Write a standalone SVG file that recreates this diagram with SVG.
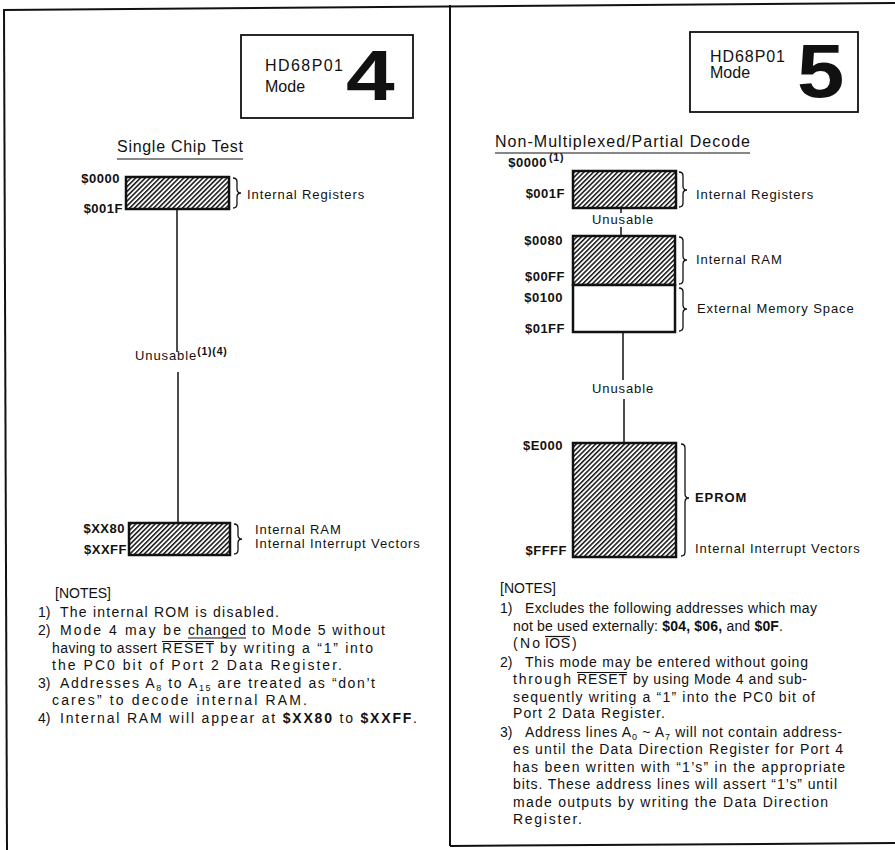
<svg xmlns="http://www.w3.org/2000/svg" width="895" height="850" viewBox="0 0 895 850">
<defs>
<pattern id="hatch" width="3.4" height="3.4" patternUnits="userSpaceOnUse" patternTransform="rotate(45)">
<rect width="3.4" height="3.4" fill="#fff"/>
<rect width="1.5" height="3.4" fill="#111"/>
</pattern>
</defs>
<style>
text{font-family:"Liberation Sans",Arial,Helvetica,sans-serif;fill:#111}
.lbl{font-size:13px;letter-spacing:0.9px}
.addr{font-size:13px;font-weight:bold;text-anchor:end;letter-spacing:0.5px}
.note{font-size:14px}
.ttl{font-size:16px}
.hd{font-size:16px}
.big{font-weight:bold}
.sub{font-size:9px}
.sup{font-size:10.5px;font-weight:bold;letter-spacing:0.8px}
.blk{stroke:#111;stroke-width:2.5;fill:url(#hatch)}
.emp{stroke:#111;stroke-width:2.5;fill:#fff}
.brace{fill:none;stroke:#111;stroke-width:1.3}
.conn{stroke:#111;stroke-width:1.5;fill:none}
.frame{stroke:#111;stroke-width:2;fill:none}
.hbox{stroke:#111;stroke-width:1.8;fill:#fff}
.ul{stroke:#111;stroke-width:1.2}
.b{font-weight:bold}
</style>
<rect width="895" height="850" fill="#fff"/>

<g id="frame">
<line class="frame" x1="3" y1="10" x2="895" y2="3"/>
<line class="frame" x1="4" y1="10" x2="7" y2="850"/>
<line class="frame" x1="450" y1="5" x2="450" y2="846"/>
<line class="frame" x1="450" y1="846" x2="895" y2="843"/>
</g>

<g id="connectors">
<line class="conn" x1="177" y1="209" x2="177" y2="352"/>
<line class="conn" x1="178" y1="372" x2="178" y2="523"/>
<line class="conn" x1="621" y1="208" x2="621" y2="213"/>
<line class="conn" x1="621" y1="227" x2="621" y2="236"/>
<line class="conn" x1="623" y1="332" x2="623" y2="380"/>
<line class="conn" x1="624" y1="399" x2="624" y2="443"/>
</g>

<g id="mode4-header">
<rect class="hbox" x="241" y="35" width="172" height="83"/>
<text class="hd" x="265" y="71" textLength="78" lengthAdjust="spacing">HD68P01</text>
<text class="hd" x="265" y="92">Mode</text>
<text class="big" transform="translate(346,100) scale(1.25,1)" font-size="70">4</text>
</g>

<g id="mode4-title">
<text class="ttl" x="117" y="152" textLength="126" lengthAdjust="spacing">Single Chip Test</text>
<line class="ul" x1="117" y1="159" x2="243" y2="159"/>
</g>

<g id="m4-registers">
<rect class="blk" x="126" y="177" width="103" height="32"/>
<text class="addr" x="120" y="183">$0000</text>
<text class="addr" x="123" y="213">$001F</text>
<path class="brace" d="M233 178 Q237 178 237 182 L237 189 Q237 193 241 193 Q237 193 237 197 L237 204 Q237 208 233 208"/>
<text class="lbl" x="247" y="199">Internal Registers</text>
</g>

<g id="m4-unusable">
<text class="lbl" x="135" y="360">Unusable<tspan class="sup" dy="-5">(1)(4)</tspan></text>
</g>

<g id="m4-ram">
<rect class="blk" x="129" y="523" width="101" height="32"/>
<text class="addr" x="125" y="533">$XX80</text>
<text class="addr" x="127" y="554">$XXFF</text>
<path class="brace" d="M234 524 Q238 524 238 528 L238 535 Q238 539 242 539 Q238 539 238 543 L238 550 Q238 554 234 554"/>
<text class="lbl" x="255" y="534">Internal RAM</text>
<text class="lbl" x="255" y="548">Internal Interrupt Vectors</text>
</g>

<g id="m4-notes">
<text class="note" x="55" y="598">[NOTES]</text>
<text class="note" x="38" y="617">1)</text>
<text class="note" x="60" y="617" textLength="219" lengthAdjust="spacing">The internal ROM is disabled.</text>
<text class="note" x="38" y="635">2)</text>
<text class="note" x="60" y="635" textLength="121" lengthAdjust="spacing">Mode 4 may be</text>
<text class="note" x="188" y="635" textLength="58" lengthAdjust="spacing">changed</text>
<line class="ul" x1="188" y1="638" x2="246" y2="638"/>
<text class="note" x="252" y="635" textLength="133" lengthAdjust="spacing">to Mode 5 without</text>
<text class="note" x="52" y="653" textLength="105" lengthAdjust="spacing">having to assert</text>
<text class="note" x="162" y="653" textLength="52" lengthAdjust="spacing">RESET</text>
<line class="ul" x1="162" y1="641.5" x2="214" y2="641.5"/>
<text class="note" x="220" y="653" textLength="153" lengthAdjust="spacing">by writing a “1” into</text>
<text class="note" x="52" y="670" textLength="290" lengthAdjust="spacing">the PC0 bit of Port 2 Data Register.</text>
<text class="note" x="38" y="688">3)</text>
<text class="note" x="60" y="688" textLength="315" lengthAdjust="spacing">Addresses A<tspan class="sub" dy="3">8</tspan><tspan dy="-3"> to A</tspan><tspan class="sub" dy="3">15</tspan><tspan dy="-3"> are treated as “don’t</tspan></text>
<text class="note" x="52" y="705" textLength="255" lengthAdjust="spacing">cares” to decode internal RAM.</text>
<text class="note" x="38" y="723">4)</text>
<text class="note" x="60" y="723" textLength="357" lengthAdjust="spacing">Internal RAM will appear at <tspan class="b">$XX80</tspan> to <tspan class="b">$XXFF</tspan>.</text>
</g>

<g id="mode5-header">
<rect class="hbox" x="690" y="32" width="168" height="80"/>
<text class="hd" x="710" y="62" font-size="15" textLength="75" lengthAdjust="spacing">HD68P01</text>
<text class="hd" x="710" y="78" font-size="15">Mode</text>
<text class="big" transform="translate(797,97) scale(1.12,1)" font-size="76">5</text>
</g>

<g id="mode5-title">
<text class="ttl" x="495" y="147" textLength="255" lengthAdjust="spacing">Non-Multiplexed/Partial Decode</text>
<line class="ul" x1="495" y1="153" x2="750" y2="153"/>
</g>

<g id="m5-registers">
<rect class="blk" x="573" y="171" width="103" height="37"/>
<text class="addr" x="547" y="167">$0000</text>
<text class="sup" x="549" y="161">(1)</text>
<text class="addr" x="565" y="198">$001F</text>
<path class="brace" d="M679 172 Q683 172 683 176 L683 186 Q683 190 687 190 Q683 190 683 194 L683 203 Q683 207 679 207"/>
<text class="lbl" x="696" y="199">Internal Registers</text>
</g>

<g id="m5-unusable1">
<text class="lbl" x="592" y="224">Unusable</text>
</g>

<g id="m5-ram">
<rect class="blk" x="573" y="236" width="102" height="49"/>
<text class="addr" x="563" y="245">$0080</text>
<text class="addr" x="565" y="281">$00FF</text>
<path class="brace" d="M679 237 Q683 237 683 241 L683 256 Q683 260 687 260 Q683 260 683 264 L683 280 Q683 284 679 284"/>
<text class="lbl" x="696" y="264">Internal RAM</text>
</g>

<g id="m5-external">
<rect class="emp" x="573" y="285" width="102" height="47"/>
<text class="addr" x="563" y="302">$0100</text>
<text class="addr" x="565" y="333">$01FF</text>
<path class="brace" d="M679 288 Q683 288 683 292 L683 305 Q683 309 687 309 Q683 309 683 313 L683 327 Q683 331 679 331"/>
<text class="lbl" x="697" y="313">External Memory Space</text>
</g>

<g id="m5-unusable2">
<text class="lbl" x="592" y="393">Unusable</text>
</g>

<g id="m5-eprom">
<rect class="blk" x="573" y="443" width="103" height="114"/>
<text class="addr" x="563" y="450">$E000</text>
<text class="addr" x="567" y="555">$FFFF</text>
<path class="brace" d="M681 444 Q685 444 685 448 L685 494 Q685 498 689 498 Q685 498 685 502 L685 552 Q685 556 681 556"/>
<text class="lbl b" x="695" y="502">EPROM</text>
<text class="lbl" x="695" y="553">Internal Interrupt Vectors</text>
</g>

<g id="m5-notes">
<text class="note" x="500" y="593">[NOTES]</text>
<text class="note" x="500" y="613">1)</text>
<text class="note" x="525" y="613" textLength="292" lengthAdjust="spacing">Excludes the following addresses which may</text>
<text class="note" x="513" y="631" textLength="270" lengthAdjust="spacing">not be used externally: <tspan class="b">$04, $06,</tspan> and <tspan class="b">$0F</tspan>.</text>
<text class="note" x="513" y="648" textLength="27" lengthAdjust="spacing">(No</text>
<text class="note" x="545" y="648" textLength="25" lengthAdjust="spacing">IOS</text>
<line class="ul" x1="545" y1="636.5" x2="570" y2="636.5"/>
<text class="note" x="572" y="648">)</text>
<text class="note" x="500" y="667">2)</text>
<text class="note" x="525" y="667" textLength="283" lengthAdjust="spacing">This mode may be entered without going</text>
<text class="note" x="513" y="684" textLength="58" lengthAdjust="spacing">through</text>
<text class="note" x="577" y="684" textLength="50" lengthAdjust="spacing">RESET</text>
<line class="ul" x1="577" y1="672.5" x2="627" y2="672.5"/>
<text class="note" x="633" y="684" textLength="174" lengthAdjust="spacing">by using Mode 4 and sub-</text>
<text class="note" x="513" y="702" textLength="302" lengthAdjust="spacing">sequently writing a “1” into the PC0 bit of</text>
<text class="note" x="513" y="718" textLength="152" lengthAdjust="spacing">Port 2 Data Register.</text>
<text class="note" x="500" y="737">3)</text>
<text class="note" x="525" y="737" textLength="317" lengthAdjust="spacing">Address lines A<tspan class="sub" dy="3">0</tspan><tspan dy="-3"> ~ A</tspan><tspan class="sub" dy="3">7</tspan><tspan dy="-3"> will not contain address-</tspan></text>
<text class="note" x="513" y="754" textLength="330" lengthAdjust="spacing">es until the Data Direction Register for Port 4</text>
<text class="note" x="513" y="772" textLength="332" lengthAdjust="spacing">has been written with “1’s” in the appropriate</text>
<text class="note" x="513" y="789" textLength="324" lengthAdjust="spacing">bits. These address lines will assert “1’s” until</text>
<text class="note" x="513" y="807" textLength="315" lengthAdjust="spacing">made outputs by writing the Data Direction</text>
<text class="note" x="513" y="824" textLength="69" lengthAdjust="spacing">Register.</text>
</g>
</svg>
